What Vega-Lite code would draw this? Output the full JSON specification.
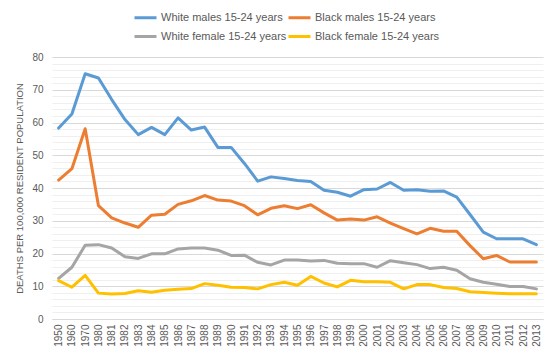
{
  "$schema": "https://vega.github.io/schema/vega-lite/v6.json",
  "width": 491,
  "height": 262,
  "autosize": {"type": "none"},
  "padding": {"left": 52, "top": 57, "right": 16, "bottom": 41},
  "background": "white",
  "config": {
    "view": {"stroke": null},
    "font": "Liberation Sans Narrow, Liberation Sans, sans-serif"
  },
  "data": {"values": [
    {"year":"1950","series":"White males 15-24 years","value":58.3},
    {"year":"1960","series":"White males 15-24 years","value":62.6},
    {"year":"1970","series":"White males 15-24 years","value":74.9},
    {"year":"1980","series":"White males 15-24 years","value":73.6},
    {"year":"1981","series":"White males 15-24 years","value":67.0},
    {"year":"1982","series":"White males 15-24 years","value":60.9},
    {"year":"1983","series":"White males 15-24 years","value":56.3},
    {"year":"1984","series":"White males 15-24 years","value":58.5},
    {"year":"1985","series":"White males 15-24 years","value":56.3},
    {"year":"1986","series":"White males 15-24 years","value":61.4},
    {"year":"1987","series":"White males 15-24 years","value":57.7},
    {"year":"1988","series":"White males 15-24 years","value":58.6},
    {"year":"1989","series":"White males 15-24 years","value":52.4},
    {"year":"1990","series":"White males 15-24 years","value":52.4},
    {"year":"1991","series":"White males 15-24 years","value":47.5},
    {"year":"1992","series":"White males 15-24 years","value":42.1},
    {"year":"1993","series":"White males 15-24 years","value":43.4},
    {"year":"1994","series":"White males 15-24 years","value":42.9},
    {"year":"1995","series":"White males 15-24 years","value":42.3},
    {"year":"1996","series":"White males 15-24 years","value":42.0},
    {"year":"1997","series":"White males 15-24 years","value":39.3},
    {"year":"1998","series":"White males 15-24 years","value":38.7},
    {"year":"1999","series":"White males 15-24 years","value":37.5},
    {"year":"2000","series":"White males 15-24 years","value":39.5},
    {"year":"2001","series":"White males 15-24 years","value":39.7},
    {"year":"2002","series":"White males 15-24 years","value":41.7},
    {"year":"2003","series":"White males 15-24 years","value":39.3},
    {"year":"2004","series":"White males 15-24 years","value":39.5},
    {"year":"2005","series":"White males 15-24 years","value":39.0},
    {"year":"2006","series":"White males 15-24 years","value":39.1},
    {"year":"2007","series":"White males 15-24 years","value":37.2},
    {"year":"2008","series":"White males 15-24 years","value":31.9},
    {"year":"2009","series":"White males 15-24 years","value":26.5},
    {"year":"2010","series":"White males 15-24 years","value":24.5},
    {"year":"2011","series":"White males 15-24 years","value":24.5},
    {"year":"2012","series":"White males 15-24 years","value":24.5},
    {"year":"2013","series":"White males 15-24 years","value":22.7},
    {"year":"1950","series":"Black males 15-24 years","value":42.4},
    {"year":"1960","series":"Black males 15-24 years","value":45.9},
    {"year":"1970","series":"Black males 15-24 years","value":58.1},
    {"year":"1980","series":"Black males 15-24 years","value":34.6},
    {"year":"1981","series":"Black males 15-24 years","value":30.9},
    {"year":"1982","series":"Black males 15-24 years","value":29.3},
    {"year":"1983","series":"Black males 15-24 years","value":28.0},
    {"year":"1984","series":"Black males 15-24 years","value":31.7},
    {"year":"1985","series":"Black males 15-24 years","value":32.0},
    {"year":"1986","series":"Black males 15-24 years","value":35.0},
    {"year":"1987","series":"Black males 15-24 years","value":36.1},
    {"year":"1988","series":"Black males 15-24 years","value":37.7},
    {"year":"1989","series":"Black males 15-24 years","value":36.3},
    {"year":"1990","series":"Black males 15-24 years","value":36.0},
    {"year":"1991","series":"Black males 15-24 years","value":34.6},
    {"year":"1992","series":"Black males 15-24 years","value":31.8},
    {"year":"1993","series":"Black males 15-24 years","value":33.8},
    {"year":"1994","series":"Black males 15-24 years","value":34.6},
    {"year":"1995","series":"Black males 15-24 years","value":33.7},
    {"year":"1996","series":"Black males 15-24 years","value":34.9},
    {"year":"1997","series":"Black males 15-24 years","value":32.4},
    {"year":"1998","series":"Black males 15-24 years","value":30.2},
    {"year":"1999","series":"Black males 15-24 years","value":30.5},
    {"year":"2000","series":"Black males 15-24 years","value":30.2},
    {"year":"2001","series":"Black males 15-24 years","value":31.2},
    {"year":"2002","series":"Black males 15-24 years","value":29.3},
    {"year":"2003","series":"Black males 15-24 years","value":27.6},
    {"year":"2004","series":"Black males 15-24 years","value":26.0},
    {"year":"2005","series":"Black males 15-24 years","value":27.7},
    {"year":"2006","series":"Black males 15-24 years","value":26.8},
    {"year":"2007","series":"Black males 15-24 years","value":26.8},
    {"year":"2008","series":"Black males 15-24 years","value":22.4},
    {"year":"2009","series":"Black males 15-24 years","value":18.4},
    {"year":"2010","series":"Black males 15-24 years","value":19.4},
    {"year":"2011","series":"Black males 15-24 years","value":17.4},
    {"year":"2012","series":"Black males 15-24 years","value":17.4},
    {"year":"2013","series":"Black males 15-24 years","value":17.4},
    {"year":"1950","series":"White female 15-24 years","value":12.4},
    {"year":"1960","series":"White female 15-24 years","value":15.8},
    {"year":"1970","series":"White female 15-24 years","value":22.5},
    {"year":"1980","series":"White female 15-24 years","value":22.7},
    {"year":"1981","series":"White female 15-24 years","value":21.7},
    {"year":"1982","series":"White female 15-24 years","value":19.0},
    {"year":"1983","series":"White female 15-24 years","value":18.5},
    {"year":"1984","series":"White female 15-24 years","value":19.9},
    {"year":"1985","series":"White female 15-24 years","value":19.9},
    {"year":"1986","series":"White female 15-24 years","value":21.4},
    {"year":"1987","series":"White female 15-24 years","value":21.7},
    {"year":"1988","series":"White female 15-24 years","value":21.7},
    {"year":"1989","series":"White female 15-24 years","value":21.0},
    {"year":"1990","series":"White female 15-24 years","value":19.4},
    {"year":"1991","series":"White female 15-24 years","value":19.5},
    {"year":"1992","series":"White female 15-24 years","value":17.3},
    {"year":"1993","series":"White female 15-24 years","value":16.5},
    {"year":"1994","series":"White female 15-24 years","value":18.0},
    {"year":"1995","series":"White female 15-24 years","value":18.0},
    {"year":"1996","series":"White female 15-24 years","value":17.7},
    {"year":"1997","series":"White female 15-24 years","value":17.9},
    {"year":"1998","series":"White female 15-24 years","value":17.0},
    {"year":"1999","series":"White female 15-24 years","value":16.9},
    {"year":"2000","series":"White female 15-24 years","value":16.9},
    {"year":"2001","series":"White female 15-24 years","value":15.8},
    {"year":"2002","series":"White female 15-24 years","value":17.8},
    {"year":"2003","series":"White female 15-24 years","value":17.2},
    {"year":"2004","series":"White female 15-24 years","value":16.6},
    {"year":"2005","series":"White female 15-24 years","value":15.4},
    {"year":"2006","series":"White female 15-24 years","value":15.8},
    {"year":"2007","series":"White female 15-24 years","value":14.9},
    {"year":"2008","series":"White female 15-24 years","value":12.3},
    {"year":"2009","series":"White female 15-24 years","value":11.2},
    {"year":"2010","series":"White female 15-24 years","value":10.6},
    {"year":"2011","series":"White female 15-24 years","value":9.9},
    {"year":"2012","series":"White female 15-24 years","value":9.9},
    {"year":"2013","series":"White female 15-24 years","value":9.2},
    {"year":"1950","series":"Black female 15-24 years","value":11.7},
    {"year":"1960","series":"Black female 15-24 years","value":9.7},
    {"year":"1970","series":"Black female 15-24 years","value":13.3},
    {"year":"1980","series":"Black female 15-24 years","value":7.9},
    {"year":"1981","series":"Black female 15-24 years","value":7.6},
    {"year":"1982","series":"Black female 15-24 years","value":7.8},
    {"year":"1983","series":"Black female 15-24 years","value":8.6},
    {"year":"1984","series":"Black female 15-24 years","value":8.2},
    {"year":"1985","series":"Black female 15-24 years","value":8.8},
    {"year":"1986","series":"Black female 15-24 years","value":9.1},
    {"year":"1987","series":"Black female 15-24 years","value":9.3},
    {"year":"1988","series":"Black female 15-24 years","value":10.8},
    {"year":"1989","series":"Black female 15-24 years","value":10.3},
    {"year":"1990","series":"Black female 15-24 years","value":9.7},
    {"year":"1991","series":"Black female 15-24 years","value":9.6},
    {"year":"1992","series":"Black female 15-24 years","value":9.2},
    {"year":"1993","series":"Black female 15-24 years","value":10.5},
    {"year":"1994","series":"Black female 15-24 years","value":11.2},
    {"year":"1995","series":"Black female 15-24 years","value":10.3},
    {"year":"1996","series":"Black female 15-24 years","value":13.0},
    {"year":"1997","series":"Black female 15-24 years","value":11.0},
    {"year":"1998","series":"Black female 15-24 years","value":9.8},
    {"year":"1999","series":"Black female 15-24 years","value":11.8},
    {"year":"2000","series":"Black female 15-24 years","value":11.4},
    {"year":"2001","series":"Black female 15-24 years","value":11.4},
    {"year":"2002","series":"Black female 15-24 years","value":11.2},
    {"year":"2003","series":"Black female 15-24 years","value":9.2},
    {"year":"2004","series":"Black female 15-24 years","value":10.5},
    {"year":"2005","series":"Black female 15-24 years","value":10.5},
    {"year":"2006","series":"Black female 15-24 years","value":9.6},
    {"year":"2007","series":"Black female 15-24 years","value":9.3},
    {"year":"2008","series":"Black female 15-24 years","value":8.3},
    {"year":"2009","series":"Black female 15-24 years","value":8.1},
    {"year":"2010","series":"Black female 15-24 years","value":7.9},
    {"year":"2011","series":"Black female 15-24 years","value":7.7},
    {"year":"2012","series":"Black female 15-24 years","value":7.7},
    {"year":"2013","series":"Black female 15-24 years","value":7.7}
  ]},
  "mark": {"type": "line", "strokeWidth": 3, "strokeJoin": "round", "strokeCap": "round"},
  "encoding": {
    "x": {
      "field": "year", "type": "nominal", "sort": null,
      "scale": {"type": "point", "padding": 0.5},
      "axis": {
        "title": null, "labelAngle": -90, "labelFontSize": 10, "labelColor": "#595959",
        "ticks": false, "labelPadding": 5, "domainColor": "#d9d9d9", "grid": false,
        "labelFont": "Liberation Sans, sans-serif"
      }
    },
    "y": {
      "field": "value", "type": "quantitative",
      "scale": {"domain": [0, 80], "nice": false},
      "axis": {
        "title": "DEATHS PER 100,000 RESIDENT POPULATION",
        "titleFontSize": 9.5, "titleFontWeight": "normal", "titleColor": "#595959",
        "titlePadding": 7,
        "values": [0,2,4,6,8,10,12,14,16,18,20,22,24,26,28,30,32,34,36,38,40,42,44,46,48,50,52,54,56,58,60,62,64,66,68,70,72,74,76,78,80],
        "labelExpr": "datum.value % 10 === 0 ? datum.label : ''",
        "labelFontSize": 10, "labelColor": "#595959", "labelFont": "Liberation Sans, sans-serif",
        "ticks": false, "labelPadding": 9, "domain": false,
        "grid": true,
        "gridColor": {"condition": {"test": "datum.value % 10 === 0", "value": "#d9d9d9"}, "value": "#efefef"},
        "gridWidth": 1
      }
    },
    "color": {
      "field": "series", "type": "nominal",
      "scale": {
        "domain": ["White males 15-24 years", "Black males 15-24 years", "White female 15-24 years", "Black female 15-24 years"],
        "range": ["#5b9bd5", "#ed7d31", "#a5a5a5", "#ffc000"]
      },
      "legend": {
        "title": null, "orient": "none", "legendX": 81, "legendY": -52,
        "columns": 2, "direction": "horizontal",
        "symbolType": "stroke", "symbolStrokeWidth": 3, "symbolSize": 484,
        "labelFontSize": 11, "labelColor": "#595959", "labelOffset": 3,
        "rowPadding": -2, "columnPadding": -5, "labelLimit": 200
      }
    }
  }
}
